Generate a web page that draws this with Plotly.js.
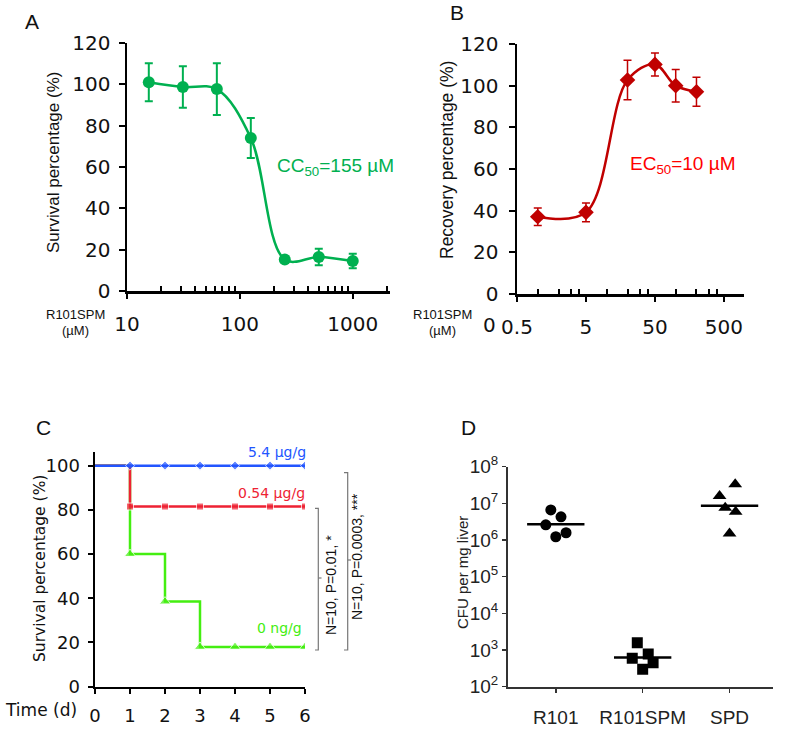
<!DOCTYPE html>
<html>
<head>
<meta charset="utf-8">
<script src="https://cdn.plot.ly/plotly-3.0.1.min.js"></script>
<style>body{margin:0;background:#fff;} #chart{width:787px;height:734px;}</style>
</head>
<body>
<div id="chart"></div>
<script>
// A: cell survival vs R101SPM
var concA = [15.6, 31.25, 62.5, 125, 250, 500, 1000];
var survA = [101, 98.7, 97.7, 74, 15.2, 16.5, 14.5];
var errA = [9.2, 10, 12.5, 9.7, 1, 4, 3.5];
var ticksA = [10, 100, 1000];

// B: recovery vs R101SPM
var concB = [1, 5, 20, 50, 100, 200];
var recB = [37.1, 39.2, 102.7, 110.2, 100, 97.1];
var errB = [4.2, 4.5, 9.5, 5.5, 7.8, 7];
var ticksB = [0.5, 5, 50, 500];

// C: survival of mice
var days = [0, 1, 2, 3, 4, 5, 6];
var surv54 = [100, 100, 100, 100, 100, 100, 100];
var surv054 = [100, 81.5, 81.5, 81.5, 81.5, 81.5, 81.5];
var surv0 = [100, 60, 38.5, 18, 18, 18, 18];

// D: CFU per mg liver
var groups = ['R101', 'R101SPM', 'SPD'];
var cfuR101 = [6.6e6, 4.3e6, 2.6e6, 1.23e6, 1.58e6];
var jitR101 = [-0.057, 0.06, -0.115, 0, 0.118];
var cfuSPM = [1.58e3, 595, 776, 452, 298];
var jitSPM = [-0.062, -0.12, 0.064, 0.12, 0];
var cfuSPD = [3.3e7, 1.58e7, 7.6e6, 5.9e6, 1.5e6];
var jitSPD = [0.065, -0.115, -0.05, 0.07, 0];
var medians = [2.7e6, 630, 8.6e6];

var W = 787, H = 734;
function px(x) { return x / W; }
function py(y) { return 1 - y / H; }

var GREEN = '#00B050', DARKRED = '#C00000', RED = '#FF0000';
var C_BLUE = '#2255FF', C_RED = '#EE2233', C_GREEN = '#44EE11';
var TICKFONT = {family: 'DejaVu Sans', size: 20, color: '#111'};
var TICKFONT_C = {family: 'DejaVu Sans', size: 18, color: '#111'};
var ARIAL = 'Liberation Sans, Arial, sans-serif';

function minorLog(lo, hi, mult) {
	var out = [];
	for (var e = lo; e <= hi; e++) {
		for (var i in mult) out.push(mult[i] * Math.pow(10, e));
	}
	return out;
}

var traces = [
	{
		x: concA, y: survA, xaxis: 'x', yaxis: 'y', mode: 'lines+markers',
		line: {shape: 'spline', smoothing: 1, color: GREEN, width: 2.5},
		marker: {size: 12, color: GREEN},
		error_y: {type: 'data', array: errA, color: GREEN, thickness: 2, width: 4}
	},
	{
		x: concB, y: recB, xaxis: 'x2', yaxis: 'y2', mode: 'lines+markers',
		line: {shape: 'spline', smoothing: 1, color: DARKRED, width: 2.5},
		marker: {size: 12, color: DARKRED, symbol: 'diamond'},
		error_y: {type: 'data', array: errB, color: DARKRED, thickness: 1.5, width: 4}
	},
	{
		x: days, y: surv0, xaxis: 'x3', yaxis: 'y3', mode: 'lines+markers',
		line: {shape: 'hv', color: C_GREEN, width: 2.5},
		marker: {size: [0, 10, 10, 10, 10, 10, 10], color: C_GREEN, symbol: 'triangle-up'}
	},
	{
		x: days, y: surv054, xaxis: 'x3', yaxis: 'y3', mode: 'lines+markers',
		line: {shape: 'hv', color: C_RED, width: 2.5},
		marker: {size: [0, 7, 7, 7, 7, 7, 7], color: C_RED, symbol: 'square'}
	},
	{
		x: days, y: surv54, xaxis: 'x3', yaxis: 'y3', mode: 'lines+markers',
		line: {shape: 'hv', color: C_BLUE, width: 2.5},
		marker: {size: [0, 7, 7, 7, 7, 7, 7], color: C_BLUE, symbol: 'diamond'}
	},
	{
		x: jitR101.map(function (j) { return 0 + j; }), y: cfuR101, xaxis: 'x4', yaxis: 'y4',
		mode: 'markers', marker: {size: 11, color: '#000', symbol: 'circle'}
	},
	{
		x: jitSPM.map(function (j) { return 1 + j; }), y: cfuSPM, xaxis: 'x4', yaxis: 'y4',
		mode: 'markers', marker: {size: 11, color: '#000', symbol: 'square'}
	},
	{
		x: jitSPD.map(function (j) { return 2 + j; }), y: cfuSPD, xaxis: 'x4', yaxis: 'y4',
		mode: 'markers', marker: {size: 12, color: '#000', symbol: 'triangle-up'}
	}
];

for (var g = 0; g < groups.length; g++) {
	traces.push({
		x: [g - 0.33, g + 0.33], y: [medians[g], medians[g]], xaxis: 'x4', yaxis: 'y4',
		mode: 'lines', line: {color: '#000', width: 2.5}
	});
}

var baseAxis = {showgrid: false, zeroline: false, showline: true, linecolor: '#000', linewidth: 2.5,
	ticks: 'outside', tickcolor: '#000', tickwidth: 2, ticklen: 5, tickfont: TICKFONT, fixedrange: true};
function ax(extra) { return Object.assign({}, baseAxis, extra); }

var layout = {
	width: W, height: H,
	margin: {l: 0, r: 0, t: 0, b: 0},
	paper_bgcolor: '#fff', plot_bgcolor: 'rgba(0,0,0,0)',
	showlegend: false,
	font: {family: ARIAL},
	xaxis: ax({domain: [px(127), px(390)], anchor: 'y', type: 'log', range: [1, 3.33],
		tickmode: 'array', tickvals: ticksA, ticktext: ticksA.map(String), ticklabelstandoff: 8,
		minor: {tickmode: 'array', tickvals: minorLog(1, 3, [2, 3, 4, 5, 6, 7, 8, 9]), ticks: 'inside', ticklen: 5, tickwidth: 2, tickcolor: '#000'}}),
	yaxis: ax({domain: [py(291), py(43)], anchor: 'x', range: [0, 120], dtick: 20, ticklen: 6, ticklabelstandoff: 4}),
	xaxis2: ax({domain: [px(517), px(744)], anchor: 'y2', type: 'log', range: [-0.301, 2.99],
		tickmode: 'array', tickvals: ticksB, ticktext: ticksB.map(String), ticklabelstandoff: 8,
		minor: {tickmode: 'array', tickvals: minorLog(0, 2, [1, 2, 3, 4]), ticks: 'inside', ticklen: 5, tickwidth: 2, tickcolor: '#000'}}),
	yaxis2: ax({domain: [py(294), py(44)], anchor: 'x2', range: [0, 120], dtick: 20, ticklen: 6, ticklabelstandoff: 6}),
	xaxis3: ax({domain: [px(95), px(305)], anchor: 'y3', range: [0, 6], dtick: 1, tickfont: TICKFONT_C, ticklabelstandoff: 6}),
	yaxis3: ax({domain: [py(686.7), py(451.7)], anchor: 'x3', range: [0, 106.3], dtick: 20, tickfont: TICKFONT_C, ticklabelstandoff: 4}),
	xaxis4: ax({domain: [px(508), px(773)], anchor: 'y4', range: [-0.55, 2.5], linecolor: '#333', linewidth: 2,
		tickmode: 'array', tickvals: [0, 1, 2], ticktext: groups, ticklen: 4, tickwidth: 1.5, tickcolor: '#333',
		tickfont: {family: ARIAL, size: 19, color: '#222'}, ticklabelstandoff: 8}),
	yaxis4: ax({domain: [py(686.7), py(466.7)], anchor: 'x4', type: 'log', range: [2, 8], linecolor: '#333', linewidth: 2,
		tickmode: 'array', tickvals: [1e2, 1e3, 1e4, 1e5, 1e6, 1e7, 1e8],
		ticktext: ['10<sup>2</sup>', '10<sup>3</sup>', '10<sup>4</sup>', '10<sup>5</sup>', '10<sup>6</sup>', '10<sup>7</sup>', '10<sup>8</sup>'],
		ticklen: 4, tickwidth: 1.5, tickcolor: '#333', tickfont: {family: ARIAL, size: 19, color: '#222'}, ticklabelstandoff: 0}),
	shapes: [
		{type: 'path', xref: 'paper', yref: 'paper', line: {color: '#777', width: 1.2},
			path: 'M' + px(315) + ',' + py(508.3) + ' L' + px(318.3) + ',' + py(508.3) + ' L' + px(318.3) + ',' + py(650) + ' L' + px(315) + ',' + py(650)},
		{type: 'line', xref: 'paper', yref: 'paper', x0: px(318.3), x1: px(321.5), y0: py(578), y1: py(578), line: {color: '#777', width: 1.2}},
		{type: 'path', xref: 'paper', yref: 'paper', line: {color: '#777', width: 1.2},
			path: 'M' + px(344) + ',' + py(472.7) + ' L' + px(347.7) + ',' + py(472.7) + ' L' + px(347.7) + ',' + py(650) + ' L' + px(344) + ',' + py(650)},
		{type: 'line', xref: 'paper', yref: 'paper', x0: px(347.7), x1: px(351), y0: py(560), y1: py(560), line: {color: '#777', width: 1.2}}
	],
	annotations: []
};

function note(text, x, y, opts) {
	var a = Object.assign({text: text, xref: 'paper', yref: 'paper', x: px(x), y: py(y),
		xanchor: 'center', yanchor: 'middle', showarrow: false,
		font: {family: ARIAL, size: 14, color: '#111'}}, opts || {});
	layout.annotations.push(a);
}

// panel letters
note('A', 32, 21, {font: {family: ARIAL, size: 21, color: '#111'}});
note('B', 457, 13, {font: {family: ARIAL, size: 21, color: '#111'}});
note('C', 43, 427, {font: {family: ARIAL, size: 21, color: '#111'}});
note('D', 468, 427, {font: {family: ARIAL, size: 21, color: '#111'}});

// axis titles
note('Survival percentage (%)', 53, 162, {textangle: -90, font: {family: ARIAL, size: 17, color: '#111'}});
note('Recovery percentage (%)', 447, 160, {textangle: -90, font: {family: ARIAL, size: 17.5, color: '#111'}});
note('Survival percentage (%)', 40, 569, {textangle: -90, font: {family: 'DejaVu Sans', size: 15.5, color: '#111'}});
note('CFU per mg liver', 462, 573, {textangle: -90, font: {family: ARIAL, size: 15, color: '#222'}});
note('R101SPM', 75, 314, {font: {family: ARIAL, size: 13, color: '#111'}});
note('(µM)', 75, 330, {font: {family: ARIAL, size: 13, color: '#111'}});
note('R101SPM', 442, 314, {font: {family: ARIAL, size: 13, color: '#111'}});
note('(µM)', 442, 330, {font: {family: ARIAL, size: 13, color: '#111'}});
note('0', 490, 325, {font: TICKFONT});
note('Time (d)', 41, 710, {font: {family: 'DejaVu Sans', size: 17, color: '#111'}});

// in-plot labels
note('CC<sub>50</sub>=155 µM', 275, 167, {xanchor: 'left', font: {family: ARIAL, size: 19, color: GREEN}});
note('EC<sub>50</sub>=10 µM', 628, 165, {xanchor: 'left', font: {family: ARIAL, size: 19, color: RED}});
note('5.4 µg/g', 308, 452, {xanchor: 'right', font: {family: 'DejaVu Sans', size: 14, color: C_BLUE}});
note('0.54 µg/g', 307, 493, {xanchor: 'right', font: {family: 'DejaVu Sans', size: 14, color: C_RED}});
note('0 ng/g', 304, 628, {xanchor: 'right', font: {family: 'DejaVu Sans', size: 14, color: C_GREEN}});
note('N=10, P=0.01, *', 331, 585, {textangle: -90, font: {family: ARIAL, size: 14, color: '#111'}});
note('N=10, P=0.0003, ***', 357, 557, {textangle: -90, font: {family: ARIAL, size: 14, color: '#111'}});

Plotly.newPlot('chart', traces, layout, {displayModeBar: false, staticPlot: true});
</script>
</body>
</html>
